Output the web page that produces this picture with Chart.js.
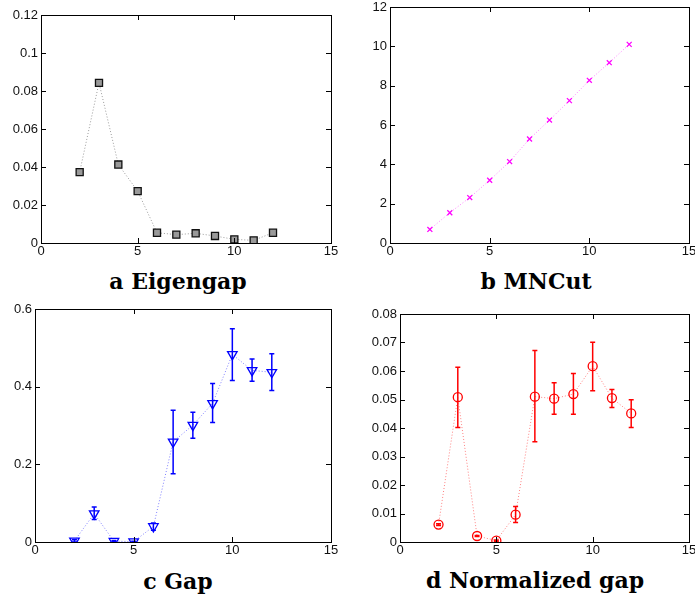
<!DOCTYPE html>
<html lang="en">
<head>
<meta charset="UTF-8">
<title>Cluster number criteria</title>
<script src="https://cdn.jsdelivr.net/npm/chart.js"></script>
<style>
  body { margin: 0; background: #fff; }
  #wrap { position: relative; width: 695px; height: 598px; overflow: hidden; }
  canvas { position: absolute; }
  .cap { position: absolute; font: bold 22px "DejaVu Serif", serif; line-height: 22px;
         white-space: nowrap; transform: translateX(-50%); color: #000; }
</style>
</head>
<body>
<div id="wrap">
  <canvas id="cA" width="345" height="262" style="left:0;top:0"></canvas>
  <canvas id="cB" width="350" height="262" style="left:345px;top:0"></canvas>
  <canvas id="cC" width="345" height="265" style="left:0;top:295px"></canvas>
  <canvas id="cD" width="350" height="265" style="left:345px;top:295px"></canvas>
  <div class="cap" style="left:178px;top:270px">a Eigengap</div>
  <div class="cap" style="left:536px;top:270px">b MNCut</div>
  <div class="cap" style="left:178px;top:570px">c Gap</div>
  <div class="cap" style="left:535px;top:569px">d Normalized gap</div>
</div>
<script>
// number of clusters
const k = [2, 3, 4, 5, 6, 7, 8, 9, 10, 11, 12];

const eigengap = [0.0373, 0.0843, 0.0413, 0.0273, 0.0054, 0.0044, 0.0051, 0.0037, 0.0019, 0.0014, 0.0054];
const mncut = [0.69, 1.54, 2.31, 3.19, 4.14, 5.29, 6.25, 7.24, 8.27, 9.17, 10.10];

const gap   = [0.003, 0.073, 0.002, 0.001, 0.040, 0.258, 0.301, 0.357, 0.483, 0.442, 0.437];
const gapLo = [0.000, 0.058, 0.000, 0.000, 0.030, 0.176, 0.267, 0.308, 0.416, 0.414, 0.390];
const gapHi = [0.006, 0.090, 0.004, 0.002, 0.049, 0.339, 0.334, 0.408, 0.549, 0.471, 0.485];

const ngap   = [0.0061, 0.0508, 0.0021, 0.0005, 0.0096, 0.0510, 0.0503, 0.0519, 0.0617, 0.0505, 0.0451];
const ngapLo = [0.0058, 0.0402, 0.0019, 0.0003, 0.0068, 0.0352, 0.0448, 0.0448, 0.0531, 0.0472, 0.0402];
const ngapHi = [0.0064, 0.0613, 0.0023, 0.0007, 0.0125, 0.0672, 0.0559, 0.0591, 0.0701, 0.0535, 0.0499];

const xTicks  = [0, 5, 10, 15];
const yTicksA = [0, 0.02, 0.04, 0.06, 0.08, 0.1, 0.12];
const yTicksB = [0, 2, 4, 6, 8, 10, 12];
const yTicksC = [0, 0.2, 0.4, 0.6];
const yTicksD = [0, 0.01, 0.02, 0.03, 0.04, 0.05, 0.06, 0.07, 0.08];

const tickFont = { family: '"Liberation Sans", Arial, sans-serif', size: 13 };

// box + inward tick marks on all four sides, plus error bars
const framePlugin = {
  id: 'frame',
  afterDatasetsDraw(chart) {
    const o = chart.options.plugins.frame;
    if (!o.lo) return;
    const ctx = chart.ctx, xs = chart.scales.x, ys = chart.scales.y;
    ctx.save();
    ctx.strokeStyle = o.errColor;
    ctx.lineWidth = 1.5;
    k.forEach((xv, i) => {
      const px = xs.getPixelForValue(xv);
      const y1 = ys.getPixelForValue(o.lo[i]), y2 = ys.getPixelForValue(o.hi[i]);
      ctx.beginPath();
      ctx.moveTo(px, y1); ctx.lineTo(px, y2);
      ctx.moveTo(px - 2.5, y1); ctx.lineTo(px + 2.5, y1);
      ctx.moveTo(px - 2.5, y2); ctx.lineTo(px + 2.5, y2);
      ctx.stroke();
    });
    ctx.restore();
  },
  afterDraw(chart) {
    const ctx = chart.ctx, a = chart.chartArea;
    const xs = chart.scales.x, ys = chart.scales.y;
    ctx.save();
    ctx.strokeStyle = '#000';
    ctx.lineWidth = 1;
    ctx.strokeRect(Math.round(a.left) + 0.5, Math.round(a.top) + 0.5,
                   Math.round(a.right - a.left), Math.round(a.bottom - a.top));
    ctx.beginPath();
    xs.ticks.forEach(t => {
      const px = Math.round(xs.getPixelForValue(t.value)) + 0.5;
      ctx.moveTo(px, a.bottom); ctx.lineTo(px, a.bottom - 5);
      ctx.moveTo(px, a.top); ctx.lineTo(px, a.top + 5);
    });
    ys.ticks.forEach(t => {
      const py = Math.round(ys.getPixelForValue(t.value)) + 0.5;
      ctx.moveTo(a.left, py); ctx.lineTo(a.left + 5, py);
      ctx.moveTo(a.right, py); ctx.lineTo(a.right - 5, py);
    });
    ctx.stroke();
    ctx.restore();
  }
};

function makeChart(id, s) {
  new Chart(document.getElementById(id), {
    type: 'scatter',
    data: {
      datasets: [{
        data: k.map((x, i) => ({ x: x, y: s.values[i] })),
        showLine: true,
        borderColor: s.lineColor,
        borderWidth: 1,
        borderDash: [1, 2],
        pointStyle: s.pointStyle,
        rotation: s.rotation || 0,
        pointRadius: s.radius,
        pointBorderColor: s.color,
        pointBackgroundColor: s.fill,
        pointBorderWidth: 1.3
      }]
    },
    options: {
      responsive: false,
      animation: false,
      layout: { padding: { left: 0, top: s.padTop, right: s.padRight, bottom: 0 } },
      plugins: {
        legend: { display: false },
        tooltip: { enabled: false },
        frame: { lo: s.lo, hi: s.hi, errColor: s.color }
      },
      scales: {
        x: {
          type: 'linear', min: 0, max: 15,
          grid: { display: false, drawTicks: false },
          border: { display: false },
          afterBuildTicks: sc => { sc.ticks = xTicks.map(v => ({ value: v })); },
          afterFit: sc => { sc.height = s.xH; sc.paddingLeft = 0; sc.paddingRight = 0; },
          ticks: { font: tickFont, color: '#111', padding: 1, maxRotation: 0 }
        },
        y: {
          type: 'linear', min: 0, max: s.yTicks[s.yTicks.length - 1],
          grid: { display: false, drawTicks: false },
          border: { display: false },
          afterBuildTicks: sc => { sc.ticks = s.yTicks.map(v => ({ value: v })); },
          afterFit: sc => { sc.width = s.yW; sc.paddingTop = 0; sc.paddingBottom = 0; },
          ticks: { font: tickFont, color: '#111', padding: 3,
                   callback: v => String(+(+v).toFixed(4)) }
        }
      }
    },
    plugins: [framePlugin]
  });
}

makeChart('cA', { values: eigengap, yTicks: yTicksA, color: '#111', fill: '#999', lineColor: '#9a9a9a',
  pointStyle: 'rect', radius: 5, yW: 41, padTop: 15, padRight: 14, xH: 19 });
makeChart('cB', { values: mncut, yTicks: yTicksB, color: '#ff00ff', fill: '#ff00ff', lineColor: '#ff80ff',
  pointStyle: 'crossRot', radius: 3.5, yW: 45, padTop: 7, padRight: 6, xH: 19 });
makeChart('cC', { values: gap, lo: gapLo, hi: gapHi, yTicks: yTicksC, color: '#0000ff', fill: 'rgba(0,0,0,0)',
  lineColor: '#8080ff', pointStyle: 'triangle', rotation: 180, radius: 5.5, yW: 35, padTop: 14, padRight: 14, xH: 18 });
makeChart('cD', { values: ngap, lo: ngapLo, hi: ngapHi, yTicks: yTicksD, color: '#ff0000', fill: 'rgba(0,0,0,0)',
  lineColor: '#ff8080', pointStyle: 'circle', radius: 4.5, yW: 55, padTop: 19, padRight: 6, xH: 18 });
</script>
</body>
</html>
